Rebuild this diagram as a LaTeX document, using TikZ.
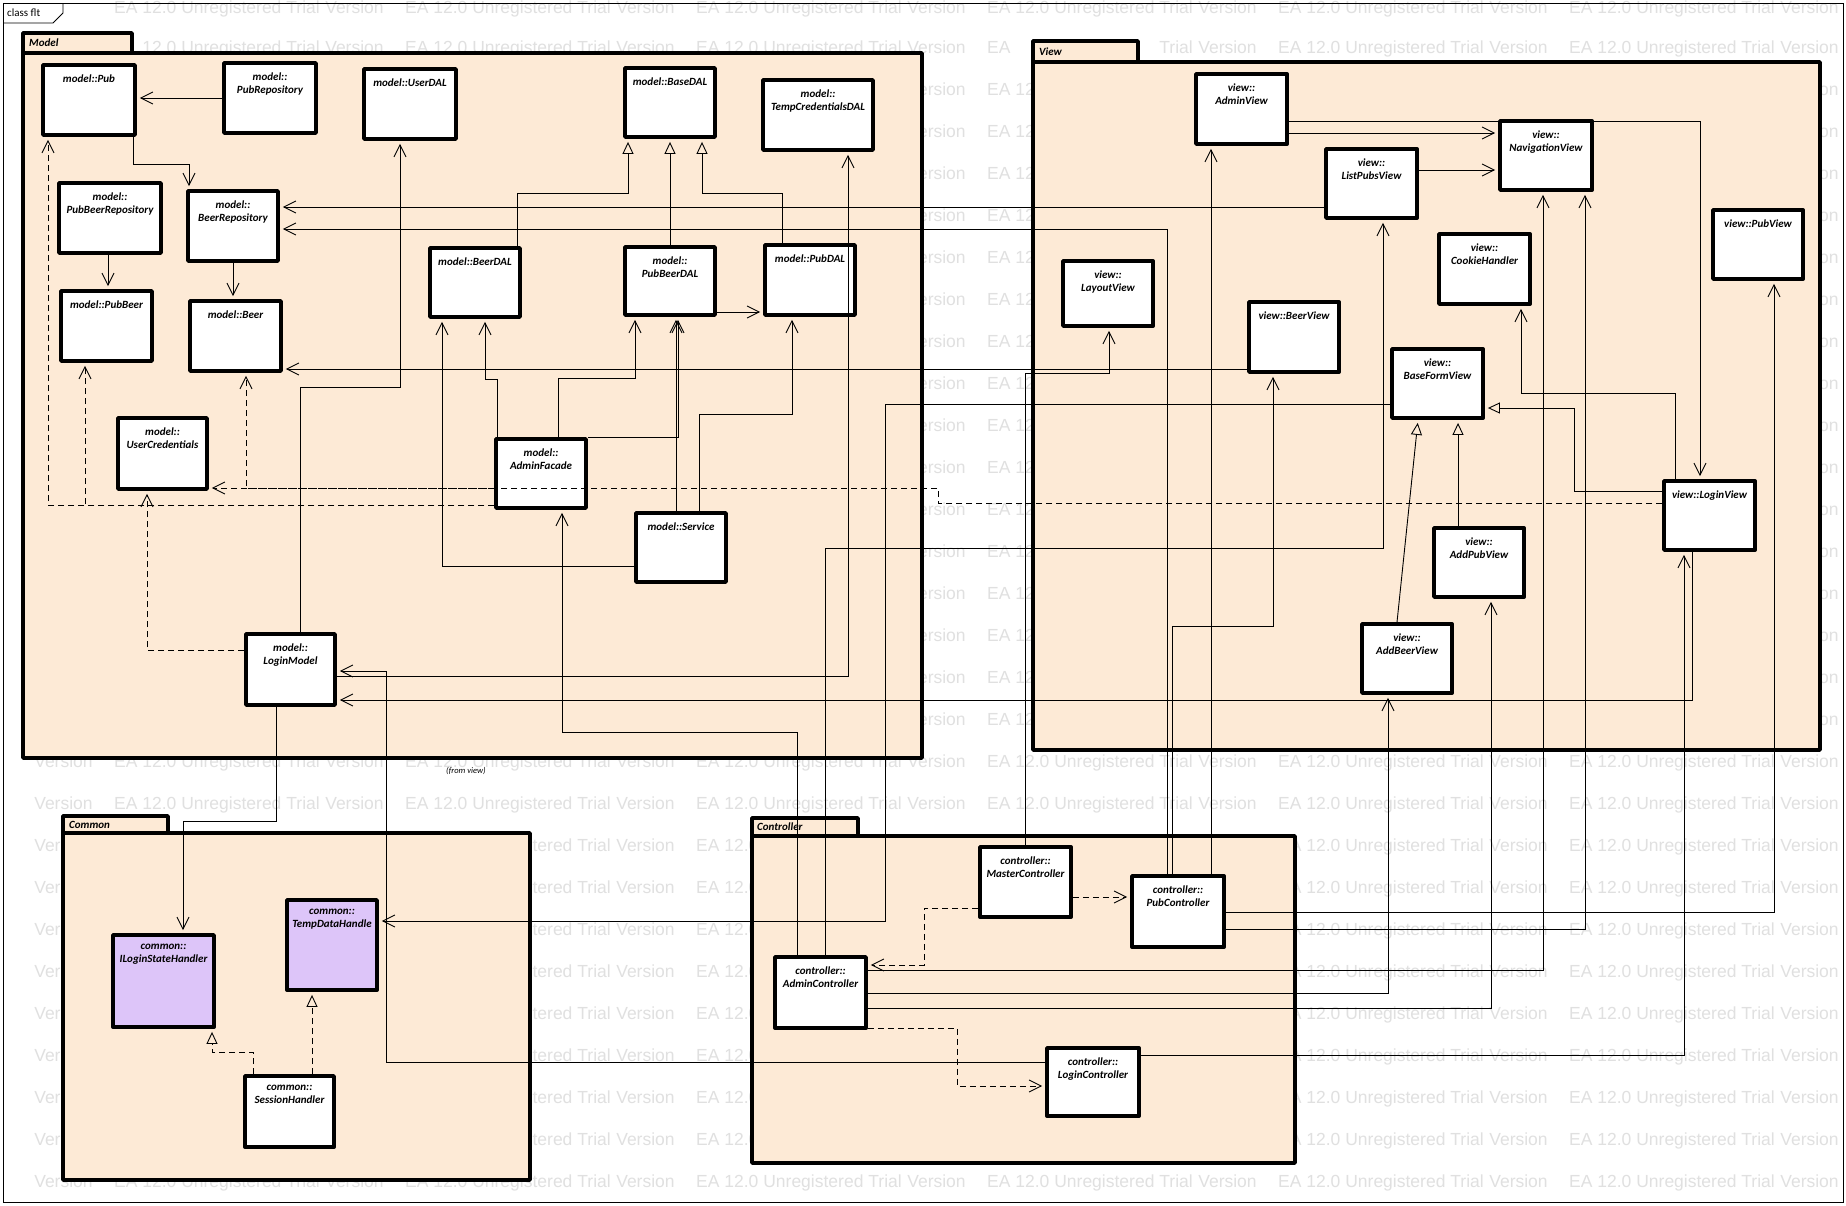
\documentclass[tikz,border=0pt]{standalone}
\usepackage{fontspec}
\setmainfont{Carlito}
\newfontfamily\wmfont{Liberation Sans}
\usetikzlibrary{arrows.meta,fit}

\definecolor{pkgfill}{RGB}{253,234,214}
\definecolor{ifcfill}{RGB}{221,197,249}
\definecolor{wmgray}{RGB}{224,224,224}

% class box: [style]{name}{x1}{y1}{x2}{y2}{label}
\newcommand\umlcls[7][cls]{%
  \node[#1, fit={(#3,#4) (#5,#6)}] (#2) {};
  \node[clstext] (#2-name) at ([yshift=-11pt]#2.north) {#7};
}

\tikzset{
  pkg/.style={draw, line width=3.6pt, fill=pkgfill, line join=round, inner sep=0pt},
  pkglabel/.style={anchor=west, inner sep=0pt, font=\fontsize{11}{13}\selectfont\bfseries\itshape},
  cls/.style={draw, line width=3.8pt, fill=white, inner sep=0pt, line join=round},
  ifc/.style={cls, fill=ifcfill},
  clstext/.style={anchor=north, inner sep=0pt, align=center, font=\fontsize{11}{13}\selectfont\bfseries\itshape},
  conn/.style={line width=0.9pt},
  assoc/.style={conn, -{Straight Barb[length=12pt,width=12pt]}, shorten >=3pt},
  gen/.style={conn, -{Triangle[open,length=12pt,width=11pt]}, shorten >=3pt},
  dep/.style={assoc, dash pattern=on 6pt off 4pt},
  real/.style={gen, dash pattern=on 6pt off 4pt},
  wm/.style={anchor=base west, inner sep=0pt, text=wmgray, font=\wmfont\fontsize{17.5}{20}\selectfont},
}

\begin{document}
\begin{tikzpicture}[x=1pt,y=-1pt]
\useasboundingbox (0,0) rectangle (1846,1205);
\fill[white] (0,0) rectangle (1846,1205);

% background watermark, word by word; words lying wholly under a package,
% or under one of the tab titles, are left out
\foreach \r in {0,...,28} {
  \foreach \c in {-1,...,6} {
    \foreach \wmt/\wmo/\wmw [count=\k] in {EA/0/23.3, 12.0/28.2/34.1, Unregistered/67.1/100.2, Trial/172.2/34.0, Version/211.1/59.3} {
      \pgfmathsetmacro\xa{114+291*\c+\wmo}
      \pgfmathsetmacro\xb{\xa+\wmw}
      \pgfmathsetmacro\yb{max(13.5,11+42*\r)}
      \pgfmathsetmacro\ya{\yb-13}
      \pgfmathsetmacro\yc{\yb+4}
      \pgfmathtruncatemacro\wmhide{(\xa<0) || (\xb>1846)
        || (\xa>=21 && \xb<=924 && \ya>=51 && \yc<=760)
        || (\xa>=1031 && \xb<=1822 && \ya>=60 && \yc<=752)
        || (\xa>=61 && \xb<=532 && \ya>=831 && \yc<=1182)
        || (\xa>=750 && \xb<=1297 && \ya>=834 && \yc<=1165)
        || (\xa<66 && \ya<26)
        || (\xa<134 && \xb>21 && \ya<55 && \yc>31)
        || (\xa<1140 && \xb>1031 && \ya<64 && \yc>39)}
      \ifnum\wmhide=0
        \node[wm] (wm-\r-\c-\k) at (\xa,\yb) {\wmt};
      \fi
    }
  }
}

% diagram frame
\draw[line width=0.8pt] (3,3) rectangle (1843,1202);
\draw[line width=0.8pt] (3,23) -- (53,23) -- (63,13) -- (63,3);
\node[anchor=west, inner sep=0pt, font=\fontsize{11}{13}\selectfont] (frame-title) at (7,13) {class flt};

% packages
\draw[pkg] (23,33) rectangle (132,53);
\node[pkg, fit={(23,53) (922,758)}] (model) {};
\node[pkglabel] (model-label) at (29,43) {Model};

\draw[pkg] (1033,41) rectangle (1138,62);
\node[pkg, fit={(1033,62) (1820,750)}] (view) {};
\node[pkglabel] (view-label) at (1039,52) {View};

\draw[pkg] (63,816) rectangle (168,833);
\node[pkg, fit={(63,833) (530,1180)}] (common) {};
\node[pkglabel] (common-label) at (69,825) {Common};

\draw[pkg] (752,818) rectangle (858,836);
\node[pkg, fit={(752,836) (1295,1163)}] (controller) {};
\node[pkglabel] (controller-label) at (757,827) {Controller};

\node[anchor=west, inner sep=0pt, font=\fontsize{8.5}{10}\selectfont\itshape] (fromview) at (446,771) {(from view)};

% model classes
\umlcls{pub}{43}{65}{135}{135}{model::Pub}
\umlcls{pubrepo}{224}{63}{316}{133}{model::\\PubRepository}
\umlcls{userdal}{364}{69}{456}{139}{model::UserDAL}
\umlcls{basedal}{625}{68}{715}{137}{model::BaseDAL}
\umlcls{tempdal}{763}{80}{873}{150}{model::\\TempCredentialsDAL}
\umlcls{pubbeerrepo}{59}{183}{161}{253}{model::\\PubBeerRepository}
\umlcls{beerrepo}{188}{191}{278}{261}{model::\\BeerRepository}
\umlcls{pubbeer}{61}{291}{152}{361}{model::PubBeer}
\umlcls{beer}{190}{301}{281}{371}{model::Beer}
\umlcls{beerdal}{430}{248}{520}{317}{model::BeerDAL}
\umlcls{pubbeerdal}{625}{247}{715}{315}{model::\\PubBeerDAL}
\umlcls{pubdal}{765}{245}{855}{315}{model::PubDAL}
\umlcls{usercred}{118}{418}{207}{489}{model::\\UserCredentials}
\umlcls{adminfacade}{496}{439}{586}{508}{model::\\AdminFacade}
\umlcls{service}{636}{513}{726}{582}{model::Service}
\umlcls{loginmodel}{246}{634}{335}{705}{model::\\LoginModel}

% view classes
\umlcls{adminview}{1196}{74}{1287}{144}{view::\\AdminView}
\umlcls{listpubs}{1326}{149}{1417}{218}{view::\\ListPubsView}
\umlcls{navview}{1500}{121}{1592}{190}{view::\\NavigationView}
\umlcls{pubview}{1713}{210}{1803}{279}{view::PubView}
\umlcls{cookie}{1439}{234}{1530}{304}{view::\\CookieHandler}
\umlcls{layout}{1063}{261}{1153}{326}{view::\\LayoutView}
\umlcls{beerview}{1249}{302}{1339}{372}{view::BeerView}
\umlcls{baseform}{1392}{349}{1483}{418}{view::\\BaseFormView}
\umlcls{loginview}{1664}{481}{1755}{550}{view::LoginView}
\umlcls{addpub}{1434}{528}{1524}{597}{view::\\AddPubView}
\umlcls{addbeer}{1362}{624}{1452}{693}{view::\\AddBeerView}

% common classes
\umlcls[ifc]{iloginstate}{113}{935}{214}{1027}{common::\\ILoginStateHandler}
\umlcls[ifc]{tempdata}{287}{900}{377}{990}{common::\\TempDataHandle}
\umlcls{session}{245}{1076}{334}{1147}{common::\\SessionHandler}

% controller classes
\umlcls{master}{980}{847}{1071}{917}{controller::\\MasterController}
\umlcls{pubctrl}{1132}{876}{1224}{947}{controller::\\PubController}
\umlcls{adminctrl}{775}{957}{866}{1028}{controller::\\AdminController}
\umlcls{loginctrl}{1047}{1048}{1139}{1116}{controller::\\LoginController}

% --- model internals ---
\draw[assoc] (pubrepo.west |- 0,98) -- (pub.east |- 0,98);
\draw[assoc] (pub.south -| 133,0) -- (133,164) -| (beerrepo.north -| 189,0);
\draw[assoc] (pubbeerrepo.south -| 108,0) -- (pubbeer.north -| 108,0);
\draw[assoc] (beerrepo.south -| 233,0) -- (beer.north -| 233,0);
\draw[gen] (beerdal.north -| 517,0) |- (628,193) -- (basedal.south -| 628,0);
\draw[gen] (pubbeerdal.north -| 670,0) -- (basedal.south -| 670,0);
\draw[gen] (pubdal.north -| 782,0) |- (702,193) -- (basedal.south -| 702,0);
\draw[assoc] (pubbeerdal.east |- 0,312) -- (pubdal.west |- 0,312);
\draw[assoc] (loginmodel.north -| 300,0) |- (400,387) -- (userdal.south -| 400,0);
\draw[assoc] (loginmodel.east |- 0,676) -| (tempdal.south -| 848,0);
\draw[assoc] (service.west |- 0,566) -| (beerdal.south -| 442,0);
\draw[assoc] (adminfacade.north -| 497,0) |- (485,379) -- (beerdal.south -| 485,0);
\draw[assoc] (adminfacade.north -| 558,0) |- (635,378) -- (pubbeerdal.south -| 635,0);
\draw[assoc] (service.north -| 676,0) -- (pubbeerdal.south -| 676,0);
\draw[assoc] (adminfacade.north east) -| (pubbeerdal.south -| 678,0);
\draw[assoc] (service.north -| 699,0) |- (792,414) -- (pubdal.south -| 792,0);
\draw[dep] (adminfacade.west |- 0,505) -| (pub.south -| 48,0);
\draw[dep] (adminfacade.west |- 0,505) -| (pubbeer.south -| 85,0);
\draw[dep] (adminfacade.west |- 0,488) -| (beer.south -| 246,0);
\draw[dep] (loginmodel.west |- 0,650) -| (usercred.south -| 147,0);
\draw[assoc] (loginmodel.south -| 276,0) |- (183,821) -- (iloginstate.north -| 183,0);

% --- view to model ---
\draw[assoc] (listpubs.west |- 0,207) -- (beerrepo.east |- 0,207);
\draw[assoc] (beerview.west |- 0,369) -- (beer.east |- 0,369);
\draw[assoc] (loginview.south -| 1692,0) |- (loginmodel.east |- 0,700);
\draw[dep] (loginview.west |- 0,503) -- (938,503) |- (usercred.east |- 0,488);
\draw[assoc] (baseform.west |- 0,404) -| (885,921) -- (tempdata.east |- 0,921);

% --- view internals ---
\draw[assoc] (adminview.east |- 0,133) -- (navview.west |- 0,133);
\draw[assoc] (listpubs.east |- 0,170) -- (navview.west |- 0,170);
\draw[assoc] (adminview.east |- 0,121) -| (loginview.north -| 1700,0);
\draw[assoc] (loginview.north -| 1675,0) |- (1521,393) -- (cookie.south -| 1521,0);
\draw[gen] (loginview.west |- 0,491) -| (1574,408) -- (baseform.east |- 0,408);
\draw[gen] (addpub.north -| 1458,0) -- (baseform.south -| 1458,0);
\draw[gen] (addbeer.north -| 1397,0) -- (baseform.south -| 1418,0);

% --- controllers ---
\draw[assoc] (master.north -| 1025,0) |- (1109,373) -- (layout.south -| 1109,0);
\draw[dep] (master.east |- 0,897) -- (pubctrl.west |- 0,897);
\draw[dep] (master.west |- 0,908) -| (924,965) -- (adminctrl.east |- 0,965);
\draw[dep] (adminctrl.east |- 0,1028) -- (957,1028) |- (loginctrl.west |- 0,1086);
\draw[assoc] (adminctrl.north -| 797,0) |- (562,732) -- (adminfacade.south -| 562,0);
\draw[assoc] (adminctrl.north -| 825,0) |- (1383,548) -- (listpubs.south -| 1383,0);
\draw[assoc] (adminctrl.east |- 0,970) -| (navview.south -| 1543,0);
\draw[assoc] (adminctrl.east |- 0,993) -| (addbeer.south -| 1388,0);
\draw[assoc] (adminctrl.east |- 0,1008) -| (addpub.south -| 1491,0);
\draw[assoc] (pubctrl.north -| 1167,0) |- (beerrepo.east |- 0,229);
\draw[assoc] (pubctrl.north -| 1172,0) |- (1273,626) -- (beerview.south -| 1273,0);
\draw[assoc] (pubctrl.north -| 1211,0) -- (adminview.south -| 1211,0);
\draw[assoc] (pubctrl.east |- 0,912) -| (pubview.south -| 1774,0);
\draw[assoc] (pubctrl.east |- 0,929) -| (navview.south -| 1585,0);
\draw[assoc] (loginctrl.east |- 0,1055) -| (loginview.south -| 1684,0);
\draw[assoc] (loginctrl.west |- 0,1062) -| (386,671) -- (loginmodel.east |- 0,671);

% --- common internals ---
\draw[real] (session.north -| 253,0) |- (212,1052) -- (iloginstate.south -| 212,0);
\draw[real] (session.north -| 312,0) -- (tempdata.south -| 312,0);
\end{tikzpicture}
\end{document}
